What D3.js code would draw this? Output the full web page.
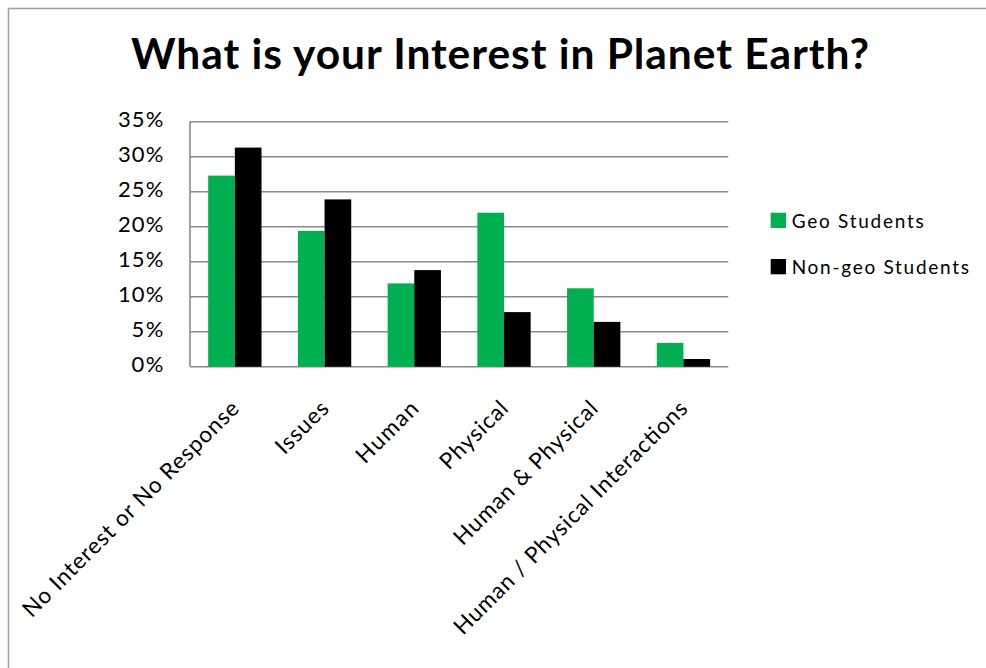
<!DOCTYPE html>
<html>
<head>
<meta charset="utf-8">
<script src="https://cdn.jsdelivr.net/npm/d3@7"></script>
<style>
  html, body { margin: 0; padding: 0; background: #fff; }
  svg { display: block; font-family: Lato, "Open Sans", sans-serif; }
</style>
</head>
<body>
<svg id="chart" width="986" height="668"></svg>
<script>
// ---- data ----
const categories = [
  "No Interest or No Response",
  "Issues",
  "Human",
  "Physical",
  "Human & Physical",
  "Human / Physical Interactions"
];
const seriesNames = ["Geo Students", "Non-geo Students"];
const geoStudents = [27.3, 19.4, 11.9, 22.0, 11.2, 3.4];
const nonGeoStudents = [31.3, 23.9, 13.8, 7.8, 6.4, 1.1];
const yTicks = [0, 5, 10, 15, 20, 25, 30, 35];
const chartTitle = "What is your Interest in Planet Earth?";

const seriesValues = [geoStudents, nonGeoStudents];
const seriesColors = ["#00b050", "#000000"];

// ---- layout ----
const svg = d3.select("#chart");
const plot = { left: 190, right: 728.3, top: 121.7, bottom: 366.7 };
const gridColor = "#8a8a8a";

// widen a text selection by a factor using extra letter spacing
function widen(sel, factor) {
  sel.each(function () {
    const w = this.getComputedTextLength();
    d3.select(this).attr("textLength", w * factor).attr("lengthAdjust", "spacing");
  });
}

// frame around the chart (top and left edges)
svg.append("path")
  .attr("d", "M8.5,668 V8.5 H986")
  .attr("fill", "none")
  .attr("stroke", "#a0a0a0")
  .attr("stroke-width", 1.5);

// title
svg.append("text")
  .attr("x", 131)
  .attr("y", 68.5)
  .attr("font-size", 42.5)
  .attr("font-weight", "bold")
  .attr("fill", "#000")
  .attr("textLength", 738)
  .attr("lengthAdjust", "spacing")
  .text(chartTitle);

// scales
const y = d3.scaleLinear().domain([0, 35]).range([plot.bottom, plot.top]);
const x0 = d3.scaleBand().domain(categories).range([plot.left, plot.right]);
const x1 = d3.scaleBand().domain(seriesNames).range([0, x0.bandwidth()]).paddingOuter(0.683);

// gridlines
svg.append("g")
  .selectAll("line")
  .data(yTicks)
  .join("line")
  .attr("x1", plot.left)
  .attr("x2", plot.right)
  .attr("y1", d => y(d))
  .attr("y2", d => y(d))
  .attr("stroke", gridColor)
  .attr("stroke-width", 1.6);

// vertical axis line
svg.append("line")
  .attr("x1", plot.left).attr("x2", plot.left)
  .attr("y1", plot.top).attr("y2", plot.bottom)
  .attr("stroke", gridColor)
  .attr("stroke-width", 1.6);

// bars
const rows = categories.map((c, i) => ({
  category: c,
  values: seriesNames.map((s, j) => ({ series: s, value: seriesValues[j][i], color: seriesColors[j] }))
}));

svg.append("g")
  .selectAll("g")
  .data(rows)
  .join("g")
  .attr("transform", d => `translate(${x0(d.category)},0)`)
  .selectAll("rect")
  .data(d => d.values)
  .join("rect")
  .attr("x", d => x1(d.series))
  .attr("width", x1.bandwidth())
  .attr("y", d => y(d.value))
  .attr("height", d => y(0) - y(d.value))
  .attr("fill", d => d.color);

// y axis labels
const yAxis = svg.append("g")
  .attr("transform", `translate(${plot.left},0)`)
  .call(d3.axisLeft(y).tickValues(yTicks).tickFormat(d => d + "%").tickSize(0).tickPadding(26.7));
yAxis.select(".domain").remove();
yAxis.selectAll("text")
  .attr("font-family", "Lato, 'Open Sans', sans-serif")
  .attr("font-size", 22)
  .attr("fill", "#000")
  .attr("dy", "0.24em")
  .call(widen, 1.05);

// category labels, rotated
svg.append("g")
  .selectAll("text")
  .data(categories)
  .join("text")
  .attr("transform", d => `translate(${x0(d) + x0.bandwidth() / 2 + 5.5},410) rotate(-45)`)
  .attr("text-anchor", "end")
  .attr("font-size", 22.5)
  .attr("fill", "#000")
  .text(d => d)
  .call(widen, 1.08);

// legend
const legend = svg.append("g")
  .selectAll("g")
  .data(seriesNames)
  .join("g")
  .attr("transform", (d, i) => `translate(770.7,${212.7 + i * 46.3})`);
legend.append("rect")
  .attr("width", 15.3)
  .attr("height", 15.3)
  .attr("fill", (d, i) => seriesColors[i]);
legend.append("text")
  .attr("x", 21)
  .attr("y", 15)
  .attr("font-size", 19)
  .attr("fill", "#000")
  .text(d => d)
  .call(widen, 1.17);
</script>
</body>
</html>
